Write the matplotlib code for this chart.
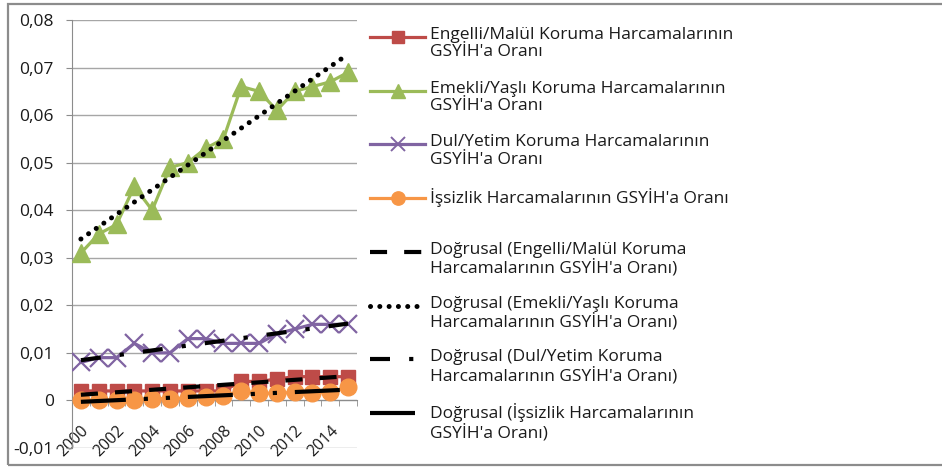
import numpy as np
import matplotlib
matplotlib.use("Agg")
import matplotlib.pyplot as plt
from matplotlib.lines import Line2D
from matplotlib.patches import Rectangle
from matplotlib.ticker import FuncFormatter, FixedLocator


# ------------------------------------------
# DATA
# ------------------------------------------
years = list(range(2000, 2016))

engelli = [0.002, 0.002, 0.002, 0.002, 0.002, 0.002, 0.002, 0.002,
           0.002, 0.004, 0.004, 0.0045, 0.005, 0.005, 0.005, 0.005]
emekli = [0.031, 0.035, 0.037, 0.045, 0.040, 0.049, 0.050, 0.053,
          0.055, 0.066, 0.065, 0.061, 0.065, 0.066, 0.067, 0.069]
dul = [0.008, 0.009, 0.009, 0.012, 0.010, 0.010, 0.013, 0.013,
       0.012, 0.012, 0.012, 0.014, 0.015, 0.016, 0.016, 0.016]
issizlik = [0.0, 0.0, 0.0, 0.0, 0.0004, 0.0004, 0.0005, 0.0007,
            0.001, 0.002, 0.0015, 0.0015, 0.0017, 0.0016, 0.0018, 0.0028]

labels = [
    "Engelli/Malül Koruma Harcamalarının\nGSYİH'a Oranı",
    "Emekli/Yaşlı Koruma Harcamalarının\nGSYİH'a Oranı",
    "Dul/Yetim Koruma Harcamalarının\nGSYİH'a Oranı",
    "İşsizlik Harcamalarının GSYİH'a Oranı",
]
trend_labels = [
    "Doğrusal (Engelli/Malül Koruma\nHarcamalarının GSYİH'a Oranı)",
    "Doğrusal (Emekli/Yaşlı Koruma\nHarcamalarının GSYİH'a Oranı)",
    "Doğrusal (Dul/Yetim Koruma\nHarcamalarının GSYİH'a Oranı)",
    "Doğrusal (İşsizlik Harcamalarının\nGSYİH'a Oranı)",
]

# ------------------------------------------
# STYLE
# ------------------------------------------
W, H = 942, 469
plt.rcParams["font.family"] = ["Open Sans", "DejaVu Sans"]

colors = ["#BE4B48", "#9BBB59", "#8064A2", "#F79646"]
markers = ["s", "^", "x", "o"]
msizes = [10.5, 12.5, 12.5, 12]
trend_dash = [
    (0, (4.1, 4.1)),
    (0, (0.01, 1.85)),
    (0, (4.8, 4.6, 1, 4.6)),
    (0, (10.8, 4.3, 1, 4.3, 1, 4.3)),
]
trend_lw = [3, 3.6, 3, 3]
trend_cap = ["butt", "round", "butt", "butt"]
series = [engelli, emekli, dul, issizlik]

fig = plt.figure(figsize=(W / 100, H / 100), dpi=100)
ax = fig.add_axes([72 / W, 1 - 448 / H, (357 - 72) / W, (448 - 20) / H])

x = np.arange(len(years))

for vals, c, m, ms in zip(series, colors, markers, msizes):
    ax.plot(x, vals, color=c, lw=2.3, marker=m, ms=ms, mfc=c, mec=c,
            mew=1.6 if m == "x" else 1, zorder=3)

# linear trend lines (Excel "Doğrusal")
for vals, ls, lw, cap in zip(series, trend_dash, trend_lw, trend_cap):
    k, b = np.polyfit(x, vals, 1)
    ax.plot(x, k * x + b, color="black", lw=lw, linestyle=ls,
            dash_capstyle=cap, zorder=4)

# ------------------------------------------
# AXES
# ------------------------------------------
ax.set_xlim(-0.5, len(years) - 0.5)
ax.set_ylim(-0.01, 0.08)
ax.set_yticks(np.arange(-0.01, 0.0801, 0.01))
ax.yaxis.set_major_formatter(FuncFormatter(
    lambda v, p: "0" if abs(v) < 1e-9 else f"{v:.2f}".replace(".", ",")))
ax.grid(axis="y", color="#A6A6A6", lw=1)
ax.set_axisbelow(True)

for s in ["top", "right"]:
    ax.spines[s].set_visible(False)
ax.spines["left"].set_color("#8C8C8C")
ax.spines["bottom"].set_color("#8C8C8C")
ax.spines["bottom"].set_position(("data", 0))

ax.xaxis.set_major_locator(FixedLocator(x[::2]))
ax.set_xticklabels([str(y) for y in years[::2]])
ax.xaxis.set_minor_locator(FixedLocator(np.arange(-0.5, len(years), 1)))
ax.tick_params(axis="x", which="major", length=0, pad=16, labelsize=11.5,
               labelcolor="#1a1a1a")
ax.tick_params(axis="x", which="minor", length=4, color="#8C8C8C")
for t in ax.get_xticklabels():
    t.set_rotation(45)
    t.set_ha("right")
    t.set_va("top")
    t.set_rotation_mode("anchor")
ax.tick_params(axis="y", length=4, color="#8C8C8C", labelsize=12.5,
               labelcolor="#1a1a1a", pad=9)

# ------------------------------------------
# LEGEND (handle on first line, like Excel)
# ------------------------------------------
def fx(px):
    return px / W


def fy(py):
    return 1 - py / H


entries = []
for lab, c, m, ms in zip(labels, colors, markers, msizes):
    entries.append(dict(label=lab, color=c, marker=m, ms=ms * 0.8,
                        ls="-", lw=2.3, cap="butt"))
for lab, ls, lw, cap in zip(trend_labels, trend_dash, trend_lw, trend_cap):
    entries.append(dict(label=lab, color="black", marker=None, ms=0,
                        ls=ls, lw=lw, cap=cap))

y0, step = 37, 53.7
for i, e in enumerate(entries):
    yy = y0 + i * step
    fig.add_artist(Line2D([fx(370), fx(425)], [fy(yy), fy(yy)],
                          transform=fig.transFigure, color=e["color"],
                          lw=e["lw"], linestyle=e["ls"],
                          dash_capstyle=e["cap"]))
    if e["marker"]:
        fig.add_artist(Line2D([fx(397.5)], [fy(yy)], transform=fig.transFigure,
                              marker=e["marker"], ms=e["ms"], color=e["color"],
                              mfc=e["color"], mec=e["color"],
                              mew=1.4 if e["marker"] == "x" else 1))
    fig.text(fx(430), fy(yy - 10), e["label"], fontsize=12.5, va="top",
             ha="left", color="#1a1a1a", linespacing=1.12)

# outer chart border
fig.add_artist(Rectangle((fx(8), fy(465)), fx(1000), fy(4) - fy(465),
                         transform=fig.transFigure, fill=False,
                         ec="#8C8C8C", lw=1.6))

fig.savefig("out.png", dpi=100)
